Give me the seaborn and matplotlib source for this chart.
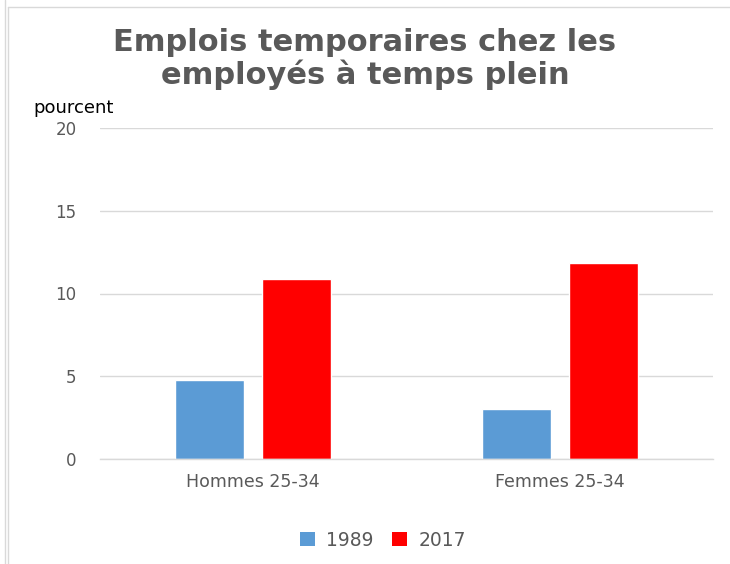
import matplotlib
matplotlib.use("Agg")
import matplotlib.pyplot as plt
import seaborn as sns
import pandas as pd
from matplotlib.lines import Line2D
from matplotlib.patches import Patch

categories = ["Hommes 25-34", "Femmes 25-34"]
years = ["1989", "2017"]
values_1989 = [4.8, 3.0]
values_2017 = [10.9, 11.85]
yticks = [0, 5, 10, 15, 20]

df = pd.DataFrame({
    "cat": categories * 2,
    "year": [years[0]] * 2 + [years[1]] * 2,
    "val": values_1989 + values_2017,
})

sns.set_style("white")
plt.rcParams['font.family'] = ['DejaVu Sans']

fig = plt.figure(figsize=(7.30, 5.64), dpi=100)
ax = fig.add_axes([100/730, 1-459/564, 613/730, 331/564])

palette = {"1989": "#5B9BD5", "2017": "#FF0000"}
sns.barplot(data=df, x="cat", y="val", hue="year", palette=palette, ax=ax,
            width=0.568, gap=0.21, saturation=1, legend=False)

ax.set_ylim(0, 20)
ax.set_yticks(yticks)
ax.set_xlim(-0.5, 1.5)
ax.yaxis.grid(True, color="#D9D9D9", linewidth=1)
ax.set_axisbelow(True)
for s in ["top", "right", "left"]:
    ax.spines[s].set_visible(False)
ax.spines["bottom"].set_color("#D9D9D9")
ax.spines["bottom"].set_linewidth(1)
ax.set_xlabel("")
ax.set_ylabel("")
ax.tick_params(axis="y", length=0, pad=17, labelsize=12, labelcolor="#595959")
ax.tick_params(axis="x", length=0, pad=10, labelsize=12.5, labelcolor="#595959")

fig.text(0.5, 1-59/564, "Emplois temporaires chez les\nemployés à temps plein",
         ha="center", va="center", fontsize=22, fontweight="bold", color="#595959",
         linespacing=1.12)
fig.text(33/730, 1-108/564, "pourcent", ha="left", va="center", fontsize=13, color="black")

handles = [Patch(facecolor=palette[y], edgecolor="none", label=y) for y in years]
fig.legend(handles=handles, loc="center", bbox_to_anchor=(383/730, 1-540/564),
           ncol=2, frameon=False, fontsize=13.5, handlelength=0.8, handleheight=0.8,
           columnspacing=1.0, handletextpad=0.6, labelcolor="#595959")

# figure frame lines
fig.add_artist(Line2D([5/730, 5/730], [0, 1], transform=fig.transFigure, color="#D9D9D9", lw=1))
fig.add_artist(Line2D([8/730, 8/730], [0, 1-7/564], transform=fig.transFigure, color="#D9D9D9", lw=1))
fig.add_artist(Line2D([8/730, 1], [1-7/564, 1-7/564], transform=fig.transFigure, color="#D9D9D9", lw=1))

fig.savefig("out.png", dpi=100)
